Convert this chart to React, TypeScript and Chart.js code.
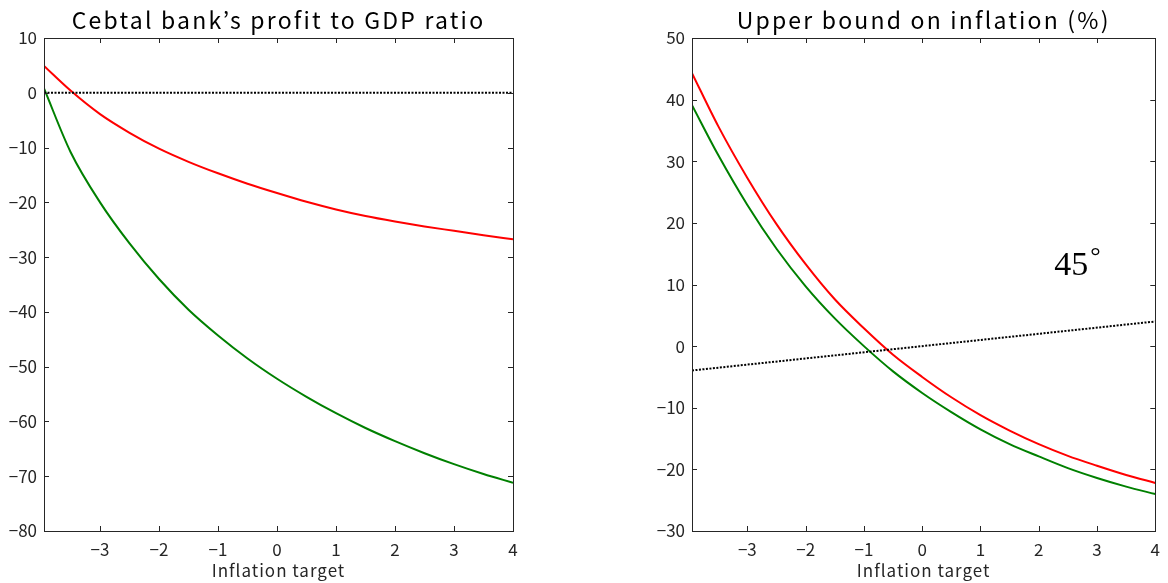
import React, { useEffect, useRef } from "react";
import { Chart, registerables } from "chart.js";
Chart.register(...registerables);

// ---- data ----
const xValues = [-3.95, -3.5, -3, -2.5, -2, -1.5, -1, -0.5, 0, 0.5, 1, 1.5, 2, 2.5, 3, 3.5, 4];
const profitRed = [4.9, 0.4, -3.9, -7.3, -10.2, -12.6, -14.7, -16.6, -18.3, -19.9, -21.3, -22.5, -23.5, -24.4, -25.2, -26.0, -26.75];
const profitGreen = [0.8, -10.8, -20.0, -27.5, -34.0, -39.6, -44.3, -48.5, -52.2, -55.5, -58.5, -61.2, -63.6, -65.8, -67.8, -69.6, -71.2];
const boundRed = [44.3, 35.7, 27.3, 19.8, 13.3, 7.6, 2.9, -1.4, -5.0, -8.3, -11.2, -13.7, -15.9, -17.8, -19.4, -20.9, -22.2];
const boundGreen = [39.1, 31.0, 22.9, 15.8, 9.7, 4.5, 0.0, -4.1, -7.6, -10.7, -13.5, -15.9, -17.9, -19.8, -21.4, -22.8, -24.0];
const refX = [-3.95, 4];
const zeroY = [0, 0];
const diagY = [-3.95, 4];
const xTicks = [-3, -2, -1, 0, 1, 2, 3, 4];
const leftYTicks = [-80, -70, -60, -50, -40, -30, -20, -10, 0, 10];
const rightYTicks = [-30, -20, -10, 0, 10, 20, 30, 40, 50];
const leftTitle = "Cebtal bank\u2019s profit to GDP ratio";
const rightTitle = "Upper bound on inflation (%)";
const xTitle = "Inflation target";
const degLabel = "45";
const degSign = "\u00B0";
const degLabelX = 2.56;
const degLabelY = 11.6;

const AXIS = "#262626";
const FONT = "'Noto Sans CJK JP', 'Noto Sans', sans-serif";

const toPts = (xs: number[], ys: number[]) => xs.map((x, i) => ({ x, y: ys[i] }));
const fmt = (v: any) => (Number(v) < 0 ? "\u2212" + Math.abs(Number(v)) : String(v));

function framePlugin(yTicks: number[], title: string, extra?: (c: any) => void) {
  return {
    id: "frame_" + title.length,
    afterDraw(chart: any) {
      const { ctx, chartArea: a, scales } = chart;
      ctx.save();
      ctx.strokeStyle = AXIS;
      ctx.lineWidth = 1;
      ctx.strokeRect(Math.round(a.left) + 0.5, Math.round(a.top) + 0.5, Math.round(a.right - a.left), Math.round(a.bottom - a.top));
      ctx.beginPath();
      const tl = 5;
      xTicks.forEach((v) => {
        const px = Math.round(scales.x.getPixelForValue(v)) + 0.5;
        ctx.moveTo(px, a.bottom);
        ctx.lineTo(px, a.bottom - tl);
        ctx.moveTo(px, a.top);
        ctx.lineTo(px, a.top + tl);
      });
      yTicks.forEach((v) => {
        const py = Math.round(scales.y.getPixelForValue(v)) + 0.5;
        ctx.moveTo(a.left, py);
        ctx.lineTo(a.left + tl, py);
        ctx.moveTo(a.right, py);
        ctx.lineTo(a.right - tl, py);
      });
      ctx.stroke();
      const cx = (a.left + a.right) / 2;
      ctx.fillStyle = "#000";
      ctx.textAlign = "center";
      ctx.textBaseline = "alphabetic";
      ctx.font = `23px ${FONT}`;
      (ctx as any).letterSpacing = "2.2px";
      ctx.fillText(title, cx, 29);
      ctx.fillStyle = AXIS;
      ctx.font = `17px ${FONT}`;
      (ctx as any).letterSpacing = "1px";
      ctx.textBaseline = "middle";
      ctx.fillText(xTitle, cx, 571);
      (ctx as any).letterSpacing = "0px";
      if (extra) extra(chart);
      ctx.restore();
    },
  };
}

function makeConfig(opts: {
  datasets: any[];
  yMin: number;
  yMax: number;
  yTicks: number[];
  leftW: number;
  rightPad: number;
  title: string;
  extra?: (c: any) => void;
}) {
  return {
    type: "line" as const,
    data: { datasets: opts.datasets },
    plugins: [framePlugin(opts.yTicks, opts.title, opts.extra)],
    options: {
      animation: false as const,
      responsive: false,
      devicePixelRatio: 1,
      layout: { padding: { top: 38, right: opts.rightPad, bottom: 0, left: 0 } },
      plugins: { legend: { display: false }, tooltip: { enabled: false }, title: { display: false } },
      elements: { point: { radius: 0 } },
      scales: {
        x: {
          type: "linear" as const,
          min: refX[0],
          max: refX[1],
          grid: { display: false, drawTicks: false },
          border: { display: false },
          afterBuildTicks: (s: any) => {
            s.ticks = xTicks.map((v) => ({ value: v }));
          },
          afterFit: (s: any) => {
            s.height = 52;
          },
          ticks: { padding: 8, color: AXIS, font: { family: FONT, size: 17 }, callback: fmt, autoSkip: false, maxRotation: 0 },
          title: { display: false },
        },
        y: {
          type: "linear" as const,
          min: opts.yMin,
          max: opts.yMax,
          grid: { display: false, drawTicks: false },
          border: { display: false },
          afterBuildTicks: (s: any) => {
            s.ticks = opts.yTicks.map((v) => ({ value: v }));
          },
          afterFit: (s: any) => {
            s.width = opts.leftW;
          },
          ticks: { padding: 7, color: AXIS, font: { family: FONT, size: 17 }, callback: fmt, autoSkip: false },
        },
      },
    },
  };
}

const lineDs = (data: any[], color: string) => ({
  data,
  borderColor: color,
  borderWidth: 2,
  pointRadius: 0,
  fill: false,
  cubicInterpolationMode: "monotone" as const,
});
const dotDs = (data: any[]) => ({
  data,
  borderColor: "#000",
  borderWidth: 2,
  borderDash: [2, 1.5],
  pointRadius: 0,
  fill: false,
});

export default function App() {
  const leftRef = useRef<HTMLCanvasElement>(null);
  const rightRef = useRef<HTMLCanvasElement>(null);

  useEffect(() => {
    const left = new Chart(
      leftRef.current as HTMLCanvasElement,
      makeConfig({
        datasets: [
          dotDs(toPts(refX, zeroY)),
          lineDs(toPts(xValues, profitRed), "#ff0000"),
          lineDs(toPts(xValues, profitGreen), "#008000"),
        ],
        yMin: -80,
        yMax: 10,
        yTicks: leftYTicks,
        leftW: 44,
        rightPad: 71,
        title: leftTitle,
      }) as any
    );
    const right = new Chart(
      rightRef.current as HTMLCanvasElement,
      makeConfig({
        datasets: [
          dotDs(toPts(refX, diagY)),
          lineDs(toPts(xValues, boundRed), "#ff0000"),
          lineDs(toPts(xValues, boundGreen), "#008000"),
        ],
        yMin: -30,
        yMax: 50,
        yTicks: rightYTicks,
        leftW: 108,
        rightPad: 8,
        title: rightTitle,
        extra: (chart: any) => {
          const { ctx, scales } = chart;
          const px = scales.x.getPixelForValue(degLabelX);
          const py = scales.y.getPixelForValue(degLabelY);
          ctx.fillStyle = "#000";
          ctx.font = "34px 'Liberation Serif', serif";
          ctx.textAlign = "center";
          ctx.textBaseline = "alphabetic";
          ctx.fillText(degLabel, px, py);
          const w = ctx.measureText(degLabel).width;
          ctx.font = "26px 'Liberation Serif', serif";
          ctx.textAlign = "left";
          ctx.fillText(degSign, px + w / 2 + 2, py - 11);
        },
      }) as any
    );
    return () => {
      left.destroy();
      right.destroy();
    };
  }, []);

  return (
    <div style={{ position: "fixed", left: 0, top: 0, width: 1168, height: 583, background: "#fff" }}>
      <canvas ref={leftRef} width={584} height={583} style={{ position: "absolute", left: 0, top: 0, width: 584, height: 583 }} />
      <canvas ref={rightRef} width={584} height={583} style={{ position: "absolute", left: 584, top: 0, width: 584, height: 583 }} />
    </div>
  );
}
